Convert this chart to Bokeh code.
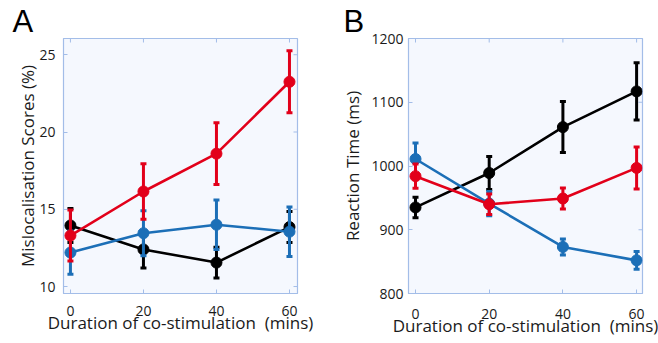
import math
from bokeh.plotting import figure
from bokeh.layouts import row
from bokeh.models import FixedTicker, Range1d
from bokeh.embed import file_html
from bokeh.resources import INLINE

# ---- data ----
durations = [0, 20, 40, 60]

# Panel A: mislocalisation scores (%)
a_black = [13.95, 12.4, 11.55, 13.85]
a_black_err = [1.1, 1.2, 1.0, 1.0]
a_blue = [12.2, 13.45, 14.0, 13.55]
a_blue_err = [1.4, 1.45, 1.6, 1.6]
a_red = [13.3, 16.15, 18.6, 23.25]
a_red_err = [1.65, 1.8, 2.0, 2.0]

# Panel B: reaction time (ms)
b_black = [935, 989, 1061, 1117]
b_black_err = [16, 26, 40, 45]
b_blue = [1011, 941, 873, 852]
b_blue_err = [25, 19, 12.5, 14]
b_red = [984, 940, 949, 997]
b_red_err = [19, 16, 16.5, 33]

a_yticks = [10, 15, 20, 25]
b_yticks = [800, 900, 1000, 1100, 1200]
xticks = [0, 20, 40, 60]

RED = "#e2001a"
BLUE = "#1c6fb7"
BLACK = "#000000"
FRAME = "#a3bde8"
BG = "#f5f8fe"
FONT = "Open Sans"
XLABEL = "Duration of co-stimulation\u00a0 (mins)"


def make_panel(width, height, borders, xr, yr, yticks, ylabel, letter, letter_offset,
               series, xtick_standoff, xl_standoff, yl_standoff, ytick_standoff):
    p = figure(width=width, height=height, output_backend="svg", toolbar_location=None,
               x_range=Range1d(*xr), y_range=Range1d(*yr),
               min_border_left=borders[0], min_border_right=borders[1],
               min_border_top=borders[2], min_border_bottom=borders[3],
               background_fill_color=BG, border_fill_color="white",
               outline_line_color=FRAME, outline_line_width=1.2)
    p.title.text = letter
    p.title.align = "left"
    p.title.offset = letter_offset
    p.title.standoff = 0
    p.title.text_font = "Liberation Sans"
    p.title.text_font_size = "31px"
    p.title.text_line_height = 0.9
    p.title.text_font_style = "normal"
    p.title.text_color = "#000000"

    p.grid.visible = False
    p.xaxis.ticker = FixedTicker(ticks=xticks)
    p.yaxis.ticker = FixedTicker(ticks=yticks)
    for ax in (p.xaxis[0], p.yaxis[0]):
        ax.axis_line_color = FRAME
        ax.major_tick_line_color = FRAME
        ax.major_tick_in = 4
        ax.major_tick_out = 0
        ax.minor_tick_line_color = None
        ax.major_label_text_font = FONT
        ax.major_label_text_font_size = "14px"
        ax.major_label_text_color = "#1a1a1a"
        ax.axis_label_text_font = FONT
        ax.axis_label_text_font_size = "17px"
        ax.axis_label_text_font_style = "normal"
        ax.axis_label_text_color = "#1a1a1a"
    p.xaxis.axis_label = XLABEL
    p.yaxis.axis_label = ylabel
    p.xaxis.major_label_standoff = xtick_standoff
    p.xaxis.axis_label_standoff = xl_standoff
    p.yaxis.major_label_standoff = ytick_standoff
    p.yaxis.axis_label_standoff = yl_standoff

    # mirrored inward ticks on the top and right frame edges
    p.ray(x=xticks, y=[yr[1]] * len(xticks), length=4, length_units="screen",
          angle=-math.pi / 2, line_color=FRAME, line_width=1)
    p.ray(x=[xr[1]] * len(yticks), y=yticks, length=4, length_units="screen",
          angle=math.pi, line_color=FRAME, line_width=1)

    for vals, errs, col in series:
        up = [v + e for v, e in zip(vals, errs)]
        lo = [v - e for v, e in zip(vals, errs)]
        p.line(durations, vals, line_color=col, line_width=2.6)
        p.segment(durations, lo, durations, up, line_color=col, line_width=3)
        p.rect(durations, up, width=6, height=3, width_units="screen", height_units="screen",
               fill_color=col, line_color=None)
        p.rect(durations, lo, width=6, height=3, width_units="screen", height_units="screen",
               fill_color=col, line_color=None)
        p.scatter(durations, vals, size=11, fill_color=col, line_color=col)
    return p


pa = make_panel(330, 343, (63, 33, 38, 47), (-1.9, 62.2), (9.55, 26.05), a_yticks,
                "Mislocalisation Scores (%)", "A", -51,
                [(a_black, a_black_err, BLACK), (a_blue, a_blue_err, BLUE), (a_red, a_red_err, RED)],
                xtick_standoff=12, xl_standoff=-8, yl_standoff=-3, ytick_standoff=8)
pb = make_panel(328, 343, (78, 16, 35, 50), (-1.9, 61.6), (800, 1200), b_yticks,
                "Reaction Time (ms)", "B", -65,
                [(b_black, b_black_err, BLACK), (b_blue, b_blue_err, BLUE), (b_red, b_red_err, RED)],
                xtick_standoff=15, xl_standoff=-8, yl_standoff=4, ytick_standoff=5)

layout = row(pa, pb)
open("out.html", "w").write(file_html(layout, INLINE))
